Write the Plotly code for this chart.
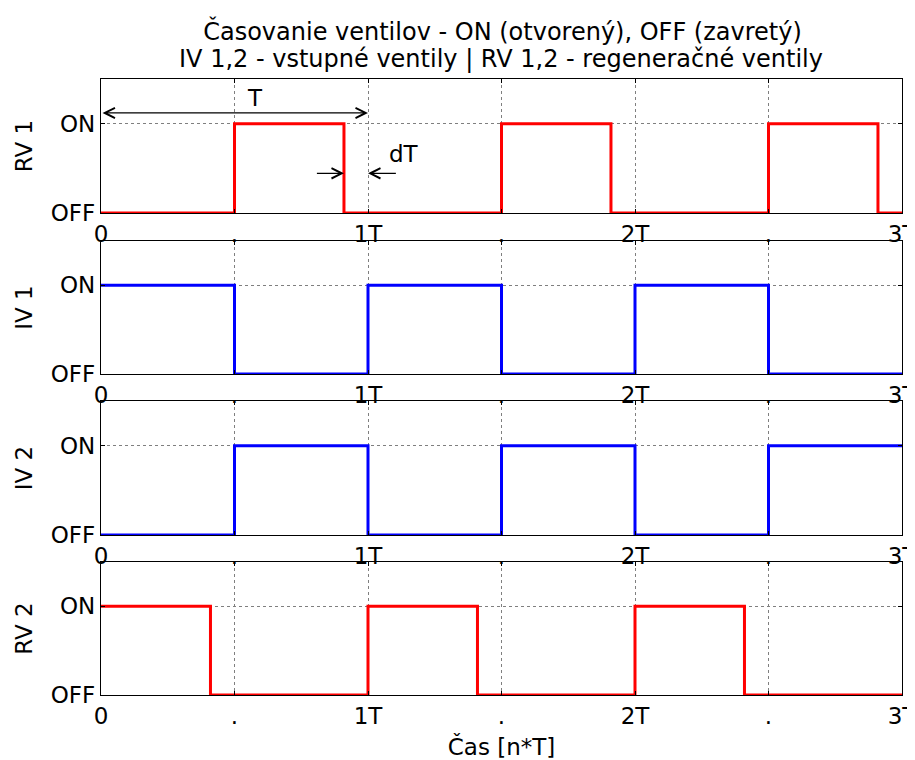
import plotly.graph_objects as go

# ---- data ----
x_tickvals = [0, 0.5, 1, 1.5, 2, 2.5, 3]
x_ticktext = ["0", ".", "1T", ".", "2T", ".", "3T"]
y_tickvals = [0, 1]
y_ticktext = ["OFF", "ON"]

panel_names = ["RV 1", "IV 1", "IV 2", "RV 2"]
panel_colors = ["#ff0000", "#0000ff", "#0000ff", "#ff0000"]

t_rv1 = [0, 0.5, 0.91, 1.5, 1.91, 2.5, 2.91, 3]
s_rv1 = [0, 1, 0, 1, 0, 1, 0, 0]
t_iv1 = [0, 0.5, 1, 1.5, 2, 2.5, 3]
s_iv1 = [1, 0, 1, 0, 1, 0, 0]
t_iv2 = [0, 0.5, 1, 1.5, 2, 2.5, 3]
s_iv2 = [0, 1, 0, 1, 0, 1, 1]
t_rv2 = [0, 0.41, 1, 1.41, 2, 2.41, 3]
s_rv2 = [1, 0, 1, 0, 1, 0, 0]

period = 1.0
rv_close = 0.91        # RV 1 closes at this time (T - dT)
arrow_T_level = 1.12
arrow_dT_level = 0.444
title_lines = ["Časovanie ventilov - ON (otvorený), OFF (zavretý)",
               "IV 1,2 - vstupné ventily | RV 1,2 - regeneračné ventily"]
x_title = "Čas [n*T]"

series = [(t_rv1, s_rv1), (t_iv1, s_iv1), (t_iv2, s_iv2), (t_rv2, s_rv2)]

# ---- layout geometry (page has an 8px body margin) ----
OFF = 8
W, H = 915 - OFF, 760 - OFF
m_l, m_r, m_t, m_b = 101 - OFF, 13, 79 - OFF, 65
ph = H - m_t - m_b
panel_px = [(79, 213), (241, 374), (401, 535), (562, 695)]
domains = [[(H - m_b - (b - OFF)) / ph, (H - m_b - (t - OFF)) / ph] for t, b in panel_px]

FONT = "DejaVu Sans"
TITLE_SIZE = 24
fig = go.Figure()

for i, ((tx, sy), name, col) in enumerate(zip(series, panel_names, panel_colors)):
    n = "" if i == 0 else str(i + 1)
    fig.add_trace(go.Scatter(x=tx, y=sy, mode="lines", line=dict(color=col, width=3, shape="hv"),
                             xaxis="x" + n, yaxis="y" + n, showlegend=False, hoverinfo="skip"))
    common = dict(showline=True, linecolor="black", linewidth=1.3, mirror="allticks",
                  ticks="inside", ticklen=4, tickwidth=1, tickcolor="black",
                  showgrid=True, gridcolor="#7f7f7f", griddash="dot", gridwidth=1,
                  zeroline=False, ticklabeloverflow="allow",
                  tickfont=dict(family=FONT, size=23, color="black"))
    xa = dict(common, range=[0, 3], tickmode="array", tickvals=x_tickvals, ticktext=x_ticktext,
              anchor="y" + n, domain=[0, 1])
    if i == 3:
        xa["title"] = dict(text=x_title, font=dict(family=FONT, size=23, color="black"), standoff=15)
    ya = dict(common, range=[0, 1.5], tickmode="array", tickvals=y_tickvals, ticktext=y_ticktext,
              anchor="x" + n, domain=domains[i],
              title=dict(text=name, font=dict(family=FONT, size=23, color="black"), standoff=11))
    fig.layout["xaxis" + n] = xa
    fig.layout["yaxis" + n] = ya

arrow_common = dict(xref="x", yref="y", axref="x", ayref="y", text="", showarrow=True,
                    arrowcolor="black", arrowwidth=1.3, arrowhead=5, arrowsize=1.55)
fig.add_annotation(x=period, y=arrow_T_level, ax=0, ay=arrow_T_level,
                   arrowside="end+start", startarrowhead=5, startarrowsize=1.55, **arrow_common)
fig.add_annotation(x=rv_close, y=arrow_dT_level, ax=rv_close - 0.107, ay=arrow_dT_level, **arrow_common)
fig.add_annotation(x=period, y=arrow_dT_level, ax=period + 0.11, ay=arrow_dT_level, **arrow_common)
fig.add_annotation(x=0.577, y=1.29, xref="x", yref="y", text="T", showarrow=False,
                   font=dict(family=FONT, size=23, color="black"))
fig.add_annotation(x=1.07, y=0.66, xref="x", yref="y", text="dT", showarrow=False, xanchor="left",
                   font=dict(family=FONT, size=23, color="black"))

# second title line
fig.add_annotation(x=0.4994, y=1 + (m_t - 51) / ph, xref="paper", yref="paper", text=title_lines[1],
                   showarrow=False, xanchor="center", yanchor="middle",
                   font=dict(family=FONT, size=TITLE_SIZE, color="black"))

fig.update_layout(
    width=W, height=H,
    margin=dict(l=m_l, r=m_r, t=m_t, b=m_b, autoexpand=False),
    paper_bgcolor="white", plot_bgcolor="white",
    title=dict(text=title_lines[0], x=0.5452, xanchor="center", y=1 - 24 / H, yanchor="middle",
               font=dict(family=FONT, size=TITLE_SIZE, color="black")),
    font=dict(family=FONT, color="black"),
)

fig.write_html("out.html")
